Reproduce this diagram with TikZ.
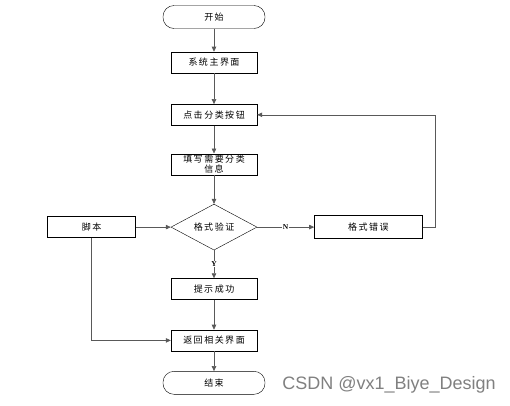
\documentclass[tikz,border=0pt]{standalone}
\usepackage{fontspec}
\setmainfont{Noto Sans CJK SC}
\newfontfamily\wmfont{Liberation Sans}
\newfontfamily\ynfont{Liberation Serif}
\usetikzlibrary{shapes.geometric, arrows.meta, positioning}
\tikzset{
  stepbox/.style  = {rectangle, draw=black, fill=white, minimum height=21pt,
                     minimum width=86pt, inner sep=1pt, align=center,
                     font=\fontsize{9}{10}\selectfont},
  term/.style     = {rectangle, rounded corners=11pt, draw=black, fill=white,
                     minimum height=23pt, minimum width=102pt,
                     font=\fontsize{9}{10}\selectfont},
  check/.style    = {diamond, draw=black, fill=white, aspect=1.87,
                     minimum width=86pt, minimum height=46pt, inner sep=0pt,
                     font=\fontsize{9}{10}\selectfont},
  arrow/.style    = {-{Triangle[length=5pt, width=4.5pt]}, black!65, semithick},
  yn/.style       = {fill=white, text=black, inner sep=0.5pt,
                     font=\ynfont\bfseries\fontsize{7.5}{8}\selectfont},
}

\begin{document}
\begin{tikzpicture}[x=1pt, y=1pt]
  \useasboundingbox (0,0) rectangle (510,-405);
  \node[term] (start) at (214,-17) {开\,始};
  \node[stepbox, below=23pt of start]  (mainui) {系\,统\,主\,界\,面};
  \node[stepbox, below=31pt of mainui] (click)  {点\,击\,分\,类\,按\,钮};
  \node[stepbox, below=28pt of click]  (fill)   {填\,写\,需\,要\,分\,类\\信\,息};
  \node[check, below=29pt of fill]     (valid)  {格\,式\,验\,证};
  \node[stepbox, below=28pt of valid]  (ok)     {提\,示\,成\,功};
  \node[stepbox, below=30pt of ok]     (back)   {返\,回\,相\,关\,界\,面};
  \node[term, below=20pt of back]      (stop)   {结\,束};
  \node[stepbox, minimum width=88pt, left=35pt of valid] (script) {脚\,本};
  \node[stepbox, minimum width=108pt, minimum height=23pt, right=57pt of valid] (err) {格\,式\,错\,误};

  \draw[arrow] (start)  -- (mainui);
  \draw[arrow] (mainui) -- (click);
  \draw[arrow] (click)  -- (fill);
  \draw[arrow] (fill)   -- (valid);
  \draw[arrow] (valid)  -- node[yn] {Y} (ok);
  \draw[arrow] (ok)     -- (back);
  \draw[arrow] (back)   -- (stop);
  \draw[arrow] (valid)  -- node[yn] {N} (err);
  \draw[arrow] (err.east) -- ++(13,0) |- (click.east);
  \draw[arrow] (script) -- (valid);
  \draw[arrow] (script.south) |- (back.west);

  \node[text=black!50, font=\wmfont\fontsize{18}{20}\selectfont] (mark) at (389,-385) {CSDN @vx1\_Biye\_Design};
\end{tikzpicture}
\end{document}
